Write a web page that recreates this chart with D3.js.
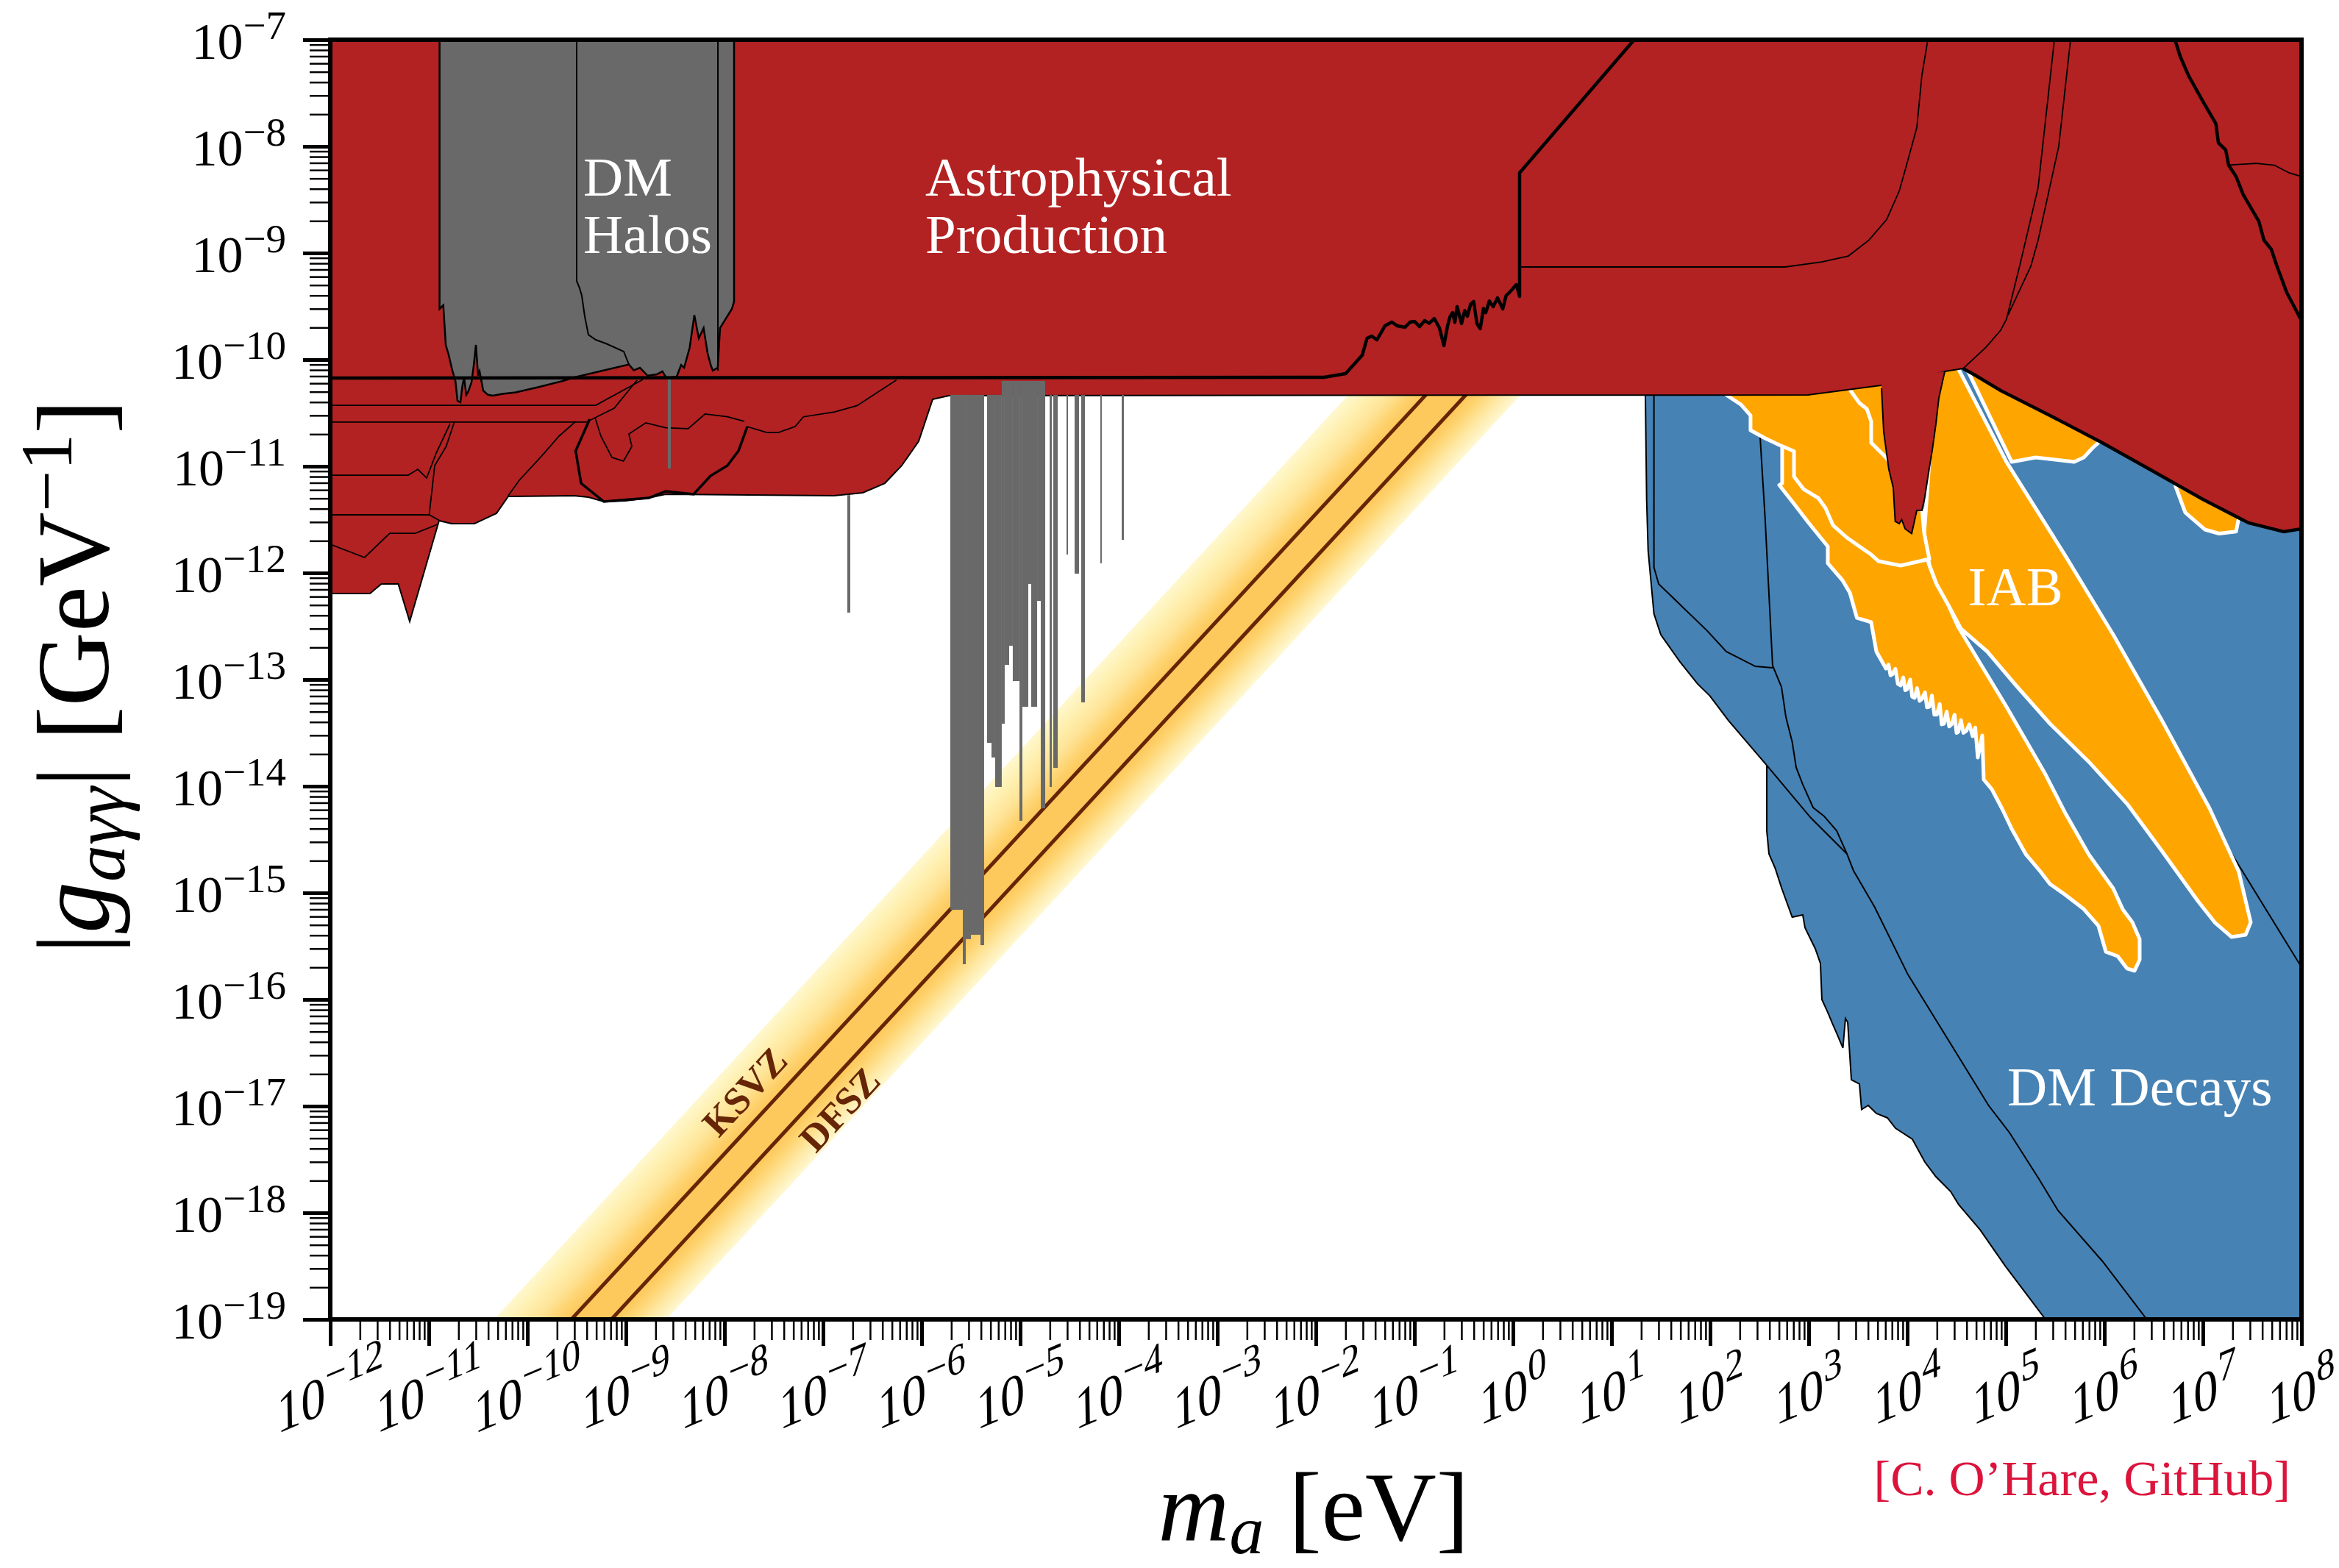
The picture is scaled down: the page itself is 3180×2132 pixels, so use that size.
<!DOCTYPE html>
<html>
<head>
<meta charset="utf-8">
<title>Axion-photon coupling</title>
<style>
  body { margin: 0; background: white; }
  svg text { font-family: "Liberation Serif", "DejaVu Serif", serif; }
</style>
</head>
<body>
<svg id="chart"></svg>
<script src="https://d3js.org/d3.v7.min.js"></script>
<script>
// every outline is a list of [log10(m_a / eV), log10(|g| / GeV^-1)]
var xExponents = d3.range(-12, 9);
var yExponents = d3.range(-19, -6);

// QCD axion band: log10(g) - log10(m) offsets
var bandOffsets = [-8.66, -10.41];
var ksvzLine = [[-10.5, -19.946], [0.5, -8.946]];
var dfszLine = [[-10.0, -19.852], [0.5, -9.352]];

var astroRegion = [[-12,-7],[-12,-12.193],[-11.597,-12.193],[-11.481,-12.103],[-11.310,-12.103],[-11.194,-12.455],
  [-10.896,-11.510],[-10.769,-11.538],[-10.537,-11.538],[-10.313,-11.441],[-10.194,-11.283],[-9.530,-11.276],
  [-9.381,-11.290],[-9.224,-11.331],[-9.007,-11.324],[-8.769,-11.297],[-8.597,-11.262],[-6.888,-11.276],
  [-6.597,-11.248],[-6.373,-11.159],[-6.201,-10.993],[-6.030,-10.766],[-5.888,-10.372],[-5.724,-10.338],
  [2.993,-10.331],[4.022,-10.207],[4.381,-10.110],[4.567,-10.083],[4.687,-10.145],[4.948,-10.290],
  [5.463,-10.531],[5.978,-10.779],[6.485,-11.041],[7.000,-11.310],[7.463,-11.531],[7.821,-11.614],
  [8,-11.586],[8,-7]];

var astroFinger = [[3.739,-10.20],[3.739,-10.269],[3.761,-10.676],[3.813,-11.028],[3.858,-11.200],[3.878,-11.517],
  [3.918,-11.538],[3.944,-11.501],[3.978,-11.586],[4.045,-11.631],[4.097,-11.414],[4.149,-11.414],[4.175,-11.308],
  [4.216,-11.062],[4.254,-10.848],[4.291,-10.603],[4.321,-10.359],[4.381,-10.110]];

var castLine = [[-12,-10.172],[-1.918,-10.166],[-1.698,-10.131],[-1.530,-9.959],[-1.481,-9.800],[-1.433,-9.779],
  [-1.381,-9.814],[-1.299,-9.683],[-1.231,-9.648],[-1.172,-9.683],[-1.097,-9.697],[-1.045,-9.648],[-1.000,-9.641],
  [-0.948,-9.690],[-0.896,-9.634],[-0.850,-9.660],[-0.799,-9.614],[-0.746,-9.703],[-0.701,-9.869],[-0.664,-9.683],
  [-0.640,-9.600],[-0.612,-9.559],[-0.590,-9.650],[-0.567,-9.503],[-0.522,-9.662],[-0.490,-9.540],[-0.463,-9.593],
  [-0.430,-9.480],[-0.399,-9.455],[-0.366,-9.662],[-0.332,-9.710],[-0.300,-9.520],[-0.276,-9.559],[-0.240,-9.450],
  [-0.201,-9.503],[-0.157,-9.421],[-0.104,-9.524],[-0.070,-9.400],[-0.032,-9.366],[0.034,-9.297],[0.067,-9.407],
  [0.067,-8.248],[1.23,-7]];
var thickEdge = [[4.567,-10.083],[4.687,-10.145],[4.948,-10.290],[5.463,-10.531],[5.978,-10.779],[6.485,-11.041],
  [7.000,-11.310],[7.463,-11.531],[7.821,-11.614],[8,-11.586]];
var rightThick = [[6.716,-7],[6.769,-7.155],[6.851,-7.331],[7.000,-7.579],[7.131,-7.786],[7.157,-7.966],[7.231,-8.034],
  [7.261,-8.176],[7.336,-8.283],[7.410,-8.455],[7.567,-8.703],[7.619,-8.879],[7.694,-8.966],[7.746,-9.110],
  [7.851,-9.372],[8,-9.634]];
var lobeLine = [[-9.368,-10.559],[-9.510,-10.855],[-9.455,-11.159],[-9.224,-11.331],[-8.769,-11.297],[-8.597,-11.234],
  [-8.313,-11.262],[-8.142,-11.090],[-7.970,-10.993],[-7.858,-10.855],[-7.769,-10.628]];
var astroThin = [
  [[0.067,-9.131],[2.761,-9.131],[3.134,-9.083],[3.403,-9.028],[3.612,-8.879],[3.791,-8.686],[3.918,-8.421],
   [3.993,-8.176],[4.097,-7.824],[4.149,-7.331],[4.209,-7]],
  [[5.493,-7],[5.328,-8.386],[5.149,-9.090],[5.007,-9.621],[4.948,-9.724],[4.799,-9.883],[4.567,-10.083]],
  [[5.657,-7],[5.537,-8.000],[5.328,-8.879],[5.254,-9.124],[5.022,-9.583]],
  [[7.261,-8.176],[7.542,-8.159],[7.724,-8.176],[7.873,-8.248],[8,-8.283]],
  [[-12,-10.428],[-9.306,-10.428],[-8.828,-10.186]],
  [[-12,-10.586],[-9.403,-10.586],[-9.119,-10.455],[-8.888,-10.193]],
  [[-12,-11.083],[-11.209,-11.083],[-11.112,-11.028],[-11.022,-11.110],[-10.925,-10.876],[-10.784,-10.600]],
  [[-7.769,-10.628],[-7.569,-10.683],[-7.455,-10.683],[-7.284,-10.628],[-7.199,-10.536],[-6.884,-10.490],
   [-6.657,-10.432],[-6.256,-10.191]],
  [[-9.313,-10.545],[-9.254,-10.717],[-9.142,-10.917],[-9.025,-10.952],[-8.940,-10.814],[-8.970,-10.697],
   [-8.799,-10.593],[-8.597,-10.639],[-8.369,-10.648],[-8.198,-10.510],[-7.970,-10.536],[-7.799,-10.579]],
  [[-12,-11.455],[-10.996,-11.455],[-10.888,-11.510]],
  [[-12,-11.731],[-11.652,-11.855],[-11.396,-11.628],[-11.138,-11.628],[-10.910,-11.545]],
  [[-9.510,-10.579],[-9.679,-10.717],[-9.854,-10.903],[-10.082,-11.131],[-10.194,-11.276]],
  [[-10.739,-10.579],[-10.824,-10.814],[-10.940,-10.993],[-10.996,-11.455]]
];

var dmHalos = [[-10.891,-7],[-10.891,-9.524],[-10.853,-9.490],[-10.828,-9.862],[-10.800,-9.950],[-10.761,-10.103],
  [-10.730,-10.200],[-10.709,-10.386],[-10.679,-10.400],[-10.660,-10.250],[-10.642,-10.166],[-10.620,-10.330],
  [-10.600,-10.300],[-10.567,-10.214],[-10.545,-10.060],[-10.522,-9.862],[-10.500,-10.150],[-10.485,-10.110],
  [-10.448,-10.290],[-10.400,-10.330],[-10.351,-10.338],[-10.250,-10.320],[-10.119,-10.307],[-9.900,-10.260],
  [-9.642,-10.200],[-9.522,-10.166],[-9.269,-10.110],[-8.970,-10.045],[-8.920,-10.100],[-8.858,-10.076],
  [-8.780,-10.150],[-8.687,-10.138],[-8.630,-10.110],[-8.590,-10.172],[-8.485,-10.159],[-8.440,-10.050],
  [-8.410,-10.076],[-8.354,-9.890],[-8.306,-9.583],[-8.261,-9.800],[-8.212,-9.703],[-8.172,-9.938],
  [-8.140,-10.050],[-8.119,-10.103],[-8.069,-10.076],[-8.045,-9.703],[-7.925,-9.524],[-7.903,-9.455],[-7.903,-7]];
var haloLines = [
  [[-9.500,-7],[-9.500,-9.262],[-9.470,-9.330],[-9.448,-9.400],[-9.418,-9.593],[-9.381,-9.766],[-9.306,-9.814],
   [-9.200,-9.850],[-9.022,-9.924],[-8.970,-10.045]],
  [[-8.067,-7],[-8.067,-10.103]]
];
// haloscope bars: [log m low, log m high, log g top, log g bottom]
var haloscopeBars = [
  [-8.575,-8.545,-10.17,-11.021],[-6.754,-6.724,-11.27,-12.372],
  [-5.709,-5.582,-10.33,-15.159],[-5.582,-5.552,-10.33,-15.669],[-5.552,-5.500,-10.33,-15.434],
  [-5.500,-5.403,-10.33,-15.393],[-5.403,-5.366,-10.33,-15.490],
  [-5.336,-5.291,-10.33,-13.593],[-5.291,-5.254,-10.33,-13.731],[-5.254,-5.187,-10.33,-14.007],
  [-5.187,-5.157,-10.2,-13.414],[-5.157,-5.112,-10.2,-12.862],[-5.112,-5.075,-10.2,-12.683],
  [-5.075,-5.007,-10.2,-13.014],[-5.007,-4.978,-10.2,-14.324],[-4.978,-4.918,-10.2,-13.255],
  [-4.918,-4.888,-10.2,-12.103],[-4.888,-4.828,-10.2,-13.255],[-4.828,-4.791,-10.2,-12.262],
  [-4.791,-4.746,-10.2,-14.207],[-4.701,-4.679,-10.33,-14.007],[-4.664,-4.619,-10.33,-13.828],
  [-4.530,-4.515,-10.33,-11.828],[-4.448,-4.403,-10.33,-12.007],[-4.381,-4.343,-10.33,-13.214],
  [-4.187,-4.172,-10.33,-11.910],[-3.970,-3.948,-10.33,-11.690]
];

var dmDecays = [[1.343,-10.0],[1.343,-10.331],[1.356,-11.317],[1.371,-11.790],[1.430,-12.383],[1.500,-12.579],
  [1.694,-12.834],[1.873,-13.041],[1.997,-13.152],[2.187,-13.386],[2.575,-13.804],[2.575,-14.418],[2.597,-14.634],
  [2.661,-14.772],[2.724,-14.952],[2.833,-15.228],[2.940,-15.207],[2.963,-15.328],[3.067,-15.524],[3.119,-15.662],
  [3.134,-16.000],[3.194,-16.121],[3.239,-16.221],[3.284,-16.317],[3.347,-16.455],[3.373,-16.179],[3.396,-16.214],
  [3.433,-16.752],[3.515,-16.793],[3.537,-17.031],[3.604,-16.993],[3.687,-17.069],[3.799,-17.110],[3.881,-17.207],
  [4.052,-17.310],[4.179,-17.524],[4.291,-17.662],[4.440,-17.800],[4.522,-17.924],[4.739,-18.159],[4.993,-18.497],
  [5.403,-19.0],[8,-19],[8,-10.0]];
var decayLines = [
  [[1.430,-10.331],[1.430,-11.948],[1.478,-12.103],[1.970,-12.542],[2.164,-12.738],[2.459,-12.876],[2.634,-12.890]],
  [[2.485,-10.331],[2.507,-10.721],[2.557,-11.473],[2.634,-12.869],[2.724,-13.069],[2.769,-13.352],[2.833,-13.586],
   [2.873,-13.824],[2.940,-13.983],[3.045,-14.200],[3.154,-14.279],[3.284,-14.418],[3.388,-14.634],[3.455,-14.793],
   [3.668,-15.131],[4.007,-15.766],[4.522,-16.538],[4.825,-16.993],[5.037,-17.248],[5.336,-17.683],[5.530,-17.979],
   [5.981,-18.455],[6.431,-19.0]],
  [[2.575,-13.804],[3.022,-14.297],[3.388,-14.634]],
  [[6.963,-14.110],[7.201,-14.497],[8,-15.697]]
];

var iabMiddle = [[2.784,-10.766],[2.731,-10.800],[2.731,-11.159],[2.701,-11.176],[2.851,-11.352],[3.000,-11.531],
  [3.194,-11.752],[3.194,-11.910],[3.343,-12.069],[3.418,-12.186],[3.489,-12.421],[3.634,-12.462],[3.687,-12.738],
  [3.784,-12.897],[3.810,-12.860],[3.830,-12.960],[3.850,-12.950],[3.880,-12.900],[3.905,-13.040],[3.933,-13.055],
  [3.960,-12.980],[3.980,-13.100],[4.000,-13.090],[4.030,-13.000],[4.050,-13.160],[4.075,-13.172],[4.100,-13.080],
  [4.125,-13.200],[4.150,-13.180],[4.180,-13.120],[4.200,-13.260],[4.224,-13.255],[4.250,-13.150],[4.275,-13.330],
  [4.300,-13.330],[4.330,-13.230],[4.350,-13.420],[4.373,-13.414],[4.400,-13.300],[4.425,-13.440],[4.450,-13.420],
  [4.480,-13.330],[4.500,-13.500],[4.519,-13.490],[4.545,-13.380],[4.570,-13.500],[4.600,-13.480],[4.630,-13.420],
  [4.664,-13.531],[4.690,-13.450],[4.716,-13.731],
  [4.761,-13.524],[4.776,-13.938],[4.858,-14.028],[4.960,-14.207],[5.060,-14.400],[5.205,-14.641],[5.351,-14.800],
  [5.448,-14.917],[5.597,-15.014],[5.791,-15.152],[5.940,-15.310],[6.015,-15.552],[6.134,-15.593],[6.231,-15.710],
  [6.306,-15.731],[6.358,-15.628],[6.358,-15.434],[6.284,-15.276],[6.187,-15.155],[6.090,-14.959],[5.993,-14.834],
  [5.843,-14.641],[5.597,-14.241],[5.403,-13.890],[5.205,-13.572],[5.007,-13.255],[4.813,-12.959],[4.619,-12.662],
  [4.515,-12.503],[4.418,-12.303],[4.351,-12.186],[4.299,-12.107],[4.224,-11.928],[4.149,-11.731],[4.052,-11.110]];
var iabBigFinger = [[4.239,-10.766],[4.351,-10.0],[4.47,-10.0],[4.52,-10.088],[5.007,-10.959],[5.597,-11.828],
  [6.090,-12.579],[6.578,-13.372],[7.067,-14.207],[7.363,-14.800],[7.485,-15.276],[7.433,-15.393],[7.291,-15.414],
  [7.119,-15.276],[6.948,-15.076],[6.578,-14.600],[6.231,-14.166],[5.843,-13.772],[5.448,-13.414],[5.104,-13.055],
  [4.813,-12.738],[4.545,-12.524],[4.418,-12.303],[4.299,-12.107],[4.224,-11.924],[4.172,-11.628]];
var iabUpper = [[2.112,-10.0],[2.164,-10.331],[2.313,-10.421],[2.410,-10.524],[2.410,-10.662],[2.560,-10.738],
  [2.701,-10.800],[2.851,-10.859],[2.851,-11.097],[2.948,-11.214],[3.097,-11.297],[3.172,-11.393],[3.246,-11.552],
  [3.388,-11.669],[3.515,-11.752],[3.634,-11.828],[3.709,-11.890],[3.933,-11.931],[4.127,-11.890],[4.224,-11.869],
  [4.172,-11.628],[4.149,-11.386],[4.052,-10.0]];
var iabBlob = [[4.799,-9.938],[4.56,-10.0],[5.060,-10.959],[5.303,-10.917],[5.694,-10.959],[5.791,-10.917],
  [5.888,-10.821],[5.940,-10.779],[5.993,-10.490]];
var iabTip = [[6.701,-11.041],[6.724,-11.193],[6.821,-11.434],[7.019,-11.593],[7.164,-11.631],[7.336,-11.612],
  [7.363,-11.490],[7.336,-11.317]];
var iabInnerLine = [[3.418,-10.283],[3.515,-10.407],[3.590,-10.462],[3.634,-10.579],[3.634,-10.779],[3.784,-10.917],[3.828,-10.972]];

var W = 3180, H = 2132;
var svg = d3.select("#chart").attr("width", W).attr("height", H);

var x = d3.scaleLog().domain([1e-12, 1e8]).range([449, 3129]);
var y = d3.scaleLog().domain([1e-19, 1e-7]).range([1794, 54]);
var px = d => x(Math.pow(10, d[0])), py = d => y(Math.pow(10, d[1]));
var line = d3.line().x(px).y(py);
var area = pts => line(pts) + "Z";

var defs = svg.append("defs");
defs.append("clipPath").attr("id", "plotclip").append("rect")
  .attr("x", 449).attr("y", 54).attr("width", 2680).attr("height", 1740);

// gradient across the QCD band, perpendicular to it
var m0 = -8, k0 = bandOffsets[0], k1 = bandOffsets[1];
var ux = px([m0]), uy = py([0, m0 + k0]), ly = py([0, m0 + k1]);
var ddx = px([m0 + 1]) - ux, ddy = py([0, m0 + 1 + k0]) - uy;
var len = Math.hypot(ddx, ddy);
var dist = (ly - uy) * ddx / len;
var grad = defs.append("linearGradient").attr("id", "qcd").attr("gradientUnits", "userSpaceOnUse")
  .attr("x1", ux).attr("y1", uy)
  .attr("x2", ux + (-ddy / len) * dist).attr("y2", uy + (ddx / len) * dist);
[[0, "#fff8cf"], [0.12, "#fff0b0"], [0.25, "#fee396"], [0.36, "#fed26e"], [0.44, "#fdc95c"],
 [0.70, "#fdc95c"], [0.78, "#fed573"], [0.88, "#fee7a0"], [1, "#fff8d2"]].forEach(s => {
  grad.append("stop").attr("offset", s[0]).attr("stop-color", s[1]);
});

var plot = svg.append("g").attr("clip-path", "url(#plotclip)");

// QCD band and model lines
var bandPts = [[-12.5, -12.5 + k0], [1.5, 1.5 + k0], [1.5, 1.5 + k1], [-12.5, -12.5 + k1]];
plot.append("path").attr("d", area(bandPts)).attr("fill", "url(#qcd)");
[ksvzLine, dfszLine].forEach(l => {
  plot.append("path").attr("d", line(l)).attr("fill", "none").attr("stroke", "#662506").attr("stroke-width", 5);
});
var ang = Math.atan2(ddy, ddx) * 180 / Math.PI;
[["KSVZ", -7.799, -16.862], ["DFSZ", -6.836, -17.028]].forEach(t => {
  plot.append("text").attr("transform", "translate(" + px([t[1]]) + "," + py([0, t[2]]) + ") rotate(" + ang + ")")
    .attr("text-anchor", "middle").attr("dy", "0.35em")
    .style("font-size", "52px").style("font-weight", "bold").attr("fill", "#662506").text(t[0]);
});

// DM decays
plot.append("path").attr("d", area(dmDecays)).attr("fill", "steelblue").attr("stroke", "black").attr("stroke-width", 2);
decayLines.forEach(l => {
  plot.append("path").attr("d", line(l)).attr("fill", "none").attr("stroke", "black").attr("stroke-width", 2);
});

// IAB
[iabMiddle, iabBigFinger, iabUpper, iabBlob, iabTip].forEach(p => {
  plot.append("path").attr("d", area(p)).attr("fill", "orange").attr("stroke", "white")
    .attr("stroke-width", 5).attr("stroke-linejoin", "round");
});
plot.append("path").attr("d", line(iabInnerLine)).attr("fill", "none").attr("stroke", "white").attr("stroke-width", 5);

// astrophysical production
plot.append("path").attr("d", area(astroRegion)).attr("fill", "firebrick").attr("stroke", "black").attr("stroke-width", 2);
plot.append("path").attr("d", area(astroFinger)).attr("fill", "firebrick");
plot.append("path").attr("d", line(astroFinger.slice(1))).attr("fill", "none").attr("stroke", "black").attr("stroke-width", 2);
astroThin.forEach(l => {
  plot.append("path").attr("d", line(l)).attr("fill", "none").attr("stroke", "black").attr("stroke-width", 1.8);
});
[[thickEdge, 4.5], [rightThick, 4.5], [lobeLine, 3.5]].forEach(l => {
  plot.append("path").attr("d", line(l[0])).attr("fill", "none").attr("stroke", "black").attr("stroke-width", l[1]);
});

// DM halos
plot.append("path").attr("d", area(dmHalos)).attr("fill", "dimgray");
plot.append("path").attr("d", line(dmHalos)).attr("fill", "none").attr("stroke", "black").attr("stroke-width", 2.5);
haloLines.forEach(l => {
  plot.append("path").attr("d", line(l)).attr("fill", "none").attr("stroke", "black").attr("stroke-width", 2);
});
plot.selectAll("rect.bar").data(haloscopeBars).enter().append("rect").attr("class", "bar")
  .attr("x", d => px([d[0]])).attr("width", d => px([d[1]]) - px([d[0]]))
  .attr("y", d => py([0, d[2]])).attr("height", d => py([0, d[3]]) - py([0, d[2]]))
  .attr("fill", "dimgray");

plot.append("path").attr("d", line(castLine)).attr("fill", "none").attr("stroke", "black")
  .attr("stroke-width", 4.5).attr("stroke-linejoin", "round");

// region labels
function label(lines, lm, lg, step) {
  var t = plot.append("text").attr("fill", "white").style("font-size", "75px");
  lines.forEach((s, i) => {
    t.append("tspan").attr("x", px([lm])).attr("y", py([0, lg]) + i * step).text(s);
  });
}
label(["DM", "Halos"], -9.433, -8.462, 78);
label(["Astrophysical", "Production"], -5.963, -8.462, 78);
label(["IAB"], 4.616, -12.303, 0);
label(["DM Decays"], 5.015, -16.993, 0);

// axes
var xMajor = xExponents.map(e => Math.pow(10, e));
var yMajor = yExponents.map(e => Math.pow(10, e));
var xMinor = [], yMinor = [];
xExponents.slice(0, -1).forEach(e => { for (var k = 2; k < 10; k++) xMinor.push(k * Math.pow(10, e)); });
yExponents.slice(0, -1).forEach(e => { for (var k = 2; k < 10; k++) yMinor.push(k * Math.pow(10, e)); });

function ticks(axis, tr, vals, size, w) {
  var g = svg.append("g").attr("transform", tr).call(axis.tickValues(vals).tickSize(size).tickSizeOuter(0).tickFormat(""));
  g.select(".domain").remove();
  g.selectAll("line").attr("stroke-width", w);
}
ticks(d3.axisBottom(x), "translate(0,1794)", xMinor, 28, 2.5);
ticks(d3.axisBottom(x), "translate(0,1794)", xMajor, 36, 5);
ticks(d3.axisLeft(y), "translate(449,0)", yMinor, 28, 2.5);
ticks(d3.axisLeft(y), "translate(449,0)", yMajor, 37, 5);

svg.append("rect").attr("x", 449).attr("y", 54).attr("width", 2680).attr("height", 1740)
  .attr("fill", "none").attr("stroke", "black").attr("stroke-width", 6);

yExponents.forEach(e => {
  var t = svg.append("text").attr("x", 389).attr("y", y(Math.pow(10, e)) + 26)
    .attr("text-anchor", "end").style("font-size", "70px");
  t.append("tspan").text("10");
  t.append("tspan").attr("dy", -27).style("font-size", "55px").text("\u2212" + Math.abs(e));
});
xExponents.forEach(e => {
  var g = svg.append("g").attr("transform", "translate(" + x(Math.pow(10, e)) + ",1893) rotate(-23) skewX(-22)");
  var t = g.append("text").attr("y", 24).attr("text-anchor", "middle").style("font-size", "72px");
  t.append("tspan").text("10");
  t.append("tspan").attr("dy", -28).style("font-size", "55px").text(e < 0 ? "\u2212" + (-e) : String(e));
});

// axis titles
var xt = svg.append("text").attr("x", 1786).attr("y", 2094).attr("text-anchor", "middle").style("font-size", "134px");
xt.append("tspan").style("font-style", "italic").text("m");
xt.append("tspan").attr("dy", 18).style("font-size", "94px").style("font-style", "italic").text("a");
xt.append("tspan").attr("dy", -18).text("\u00a0[eV]");

var yt = svg.append("text").attr("transform", "translate(147,920) rotate(-90)")
  .attr("text-anchor", "middle").style("font-size", "140px");
yt.append("tspan").text("|");
yt.append("tspan").style("font-style", "italic").text("g");
yt.append("tspan").attr("dy", 22).style("font-size", "100px").style("font-style", "italic").text("a\u03b3\u03b3");
yt.append("tspan").attr("dy", -22).text("|\u00a0[GeV");
yt.append("tspan").attr("dy", -50).style("font-size", "100px").text("\u22121");
yt.append("tspan").attr("dy", 50).text("]");

svg.append("text").attr("x", 3114).attr("y", 2033).attr("text-anchor", "end")
  .style("font-size", "68px").attr("fill", "crimson").text("[C. O\u2019Hare, GitHub]");
</script>
</body>
</html>
